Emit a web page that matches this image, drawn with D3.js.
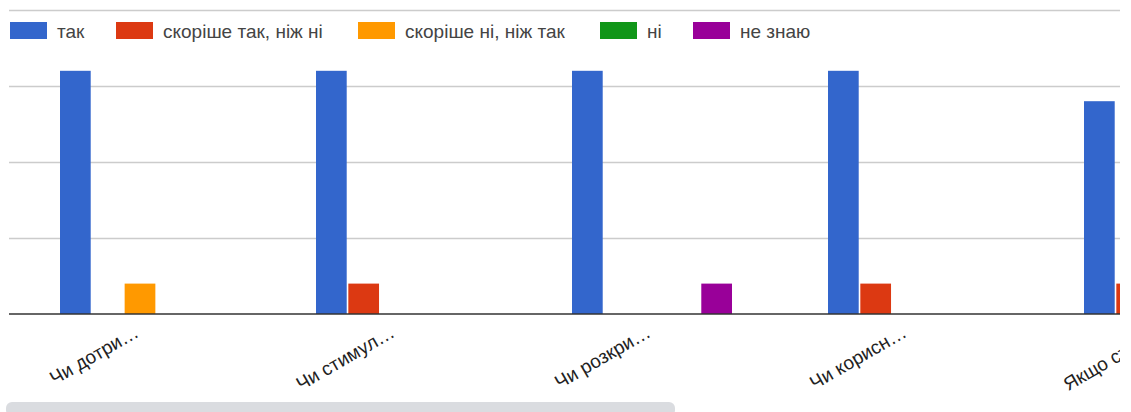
<!DOCTYPE html>
<html><head><meta charset="utf-8">
<script src="https://cdn.jsdelivr.net/npm/d3@7/dist/d3.min.js"></script>
<style>body{margin:0;background:#fff;overflow:hidden}svg{display:block}</style>
</head><body>
<svg id="c" width="1131" height="412"></svg>
<script>
const categories = ["Чи дотри…", "Чи стимул…", "Чи розкри…", "Чи корисн…", "Якщо студ…"];
const seriesNames = ["так", "скоріше так, ніж ні", "скоріше ні, ніж так", "ні", "не знаю"];
const seriesColors = ["#3366cc", "#dc3912", "#ff9900", "#109618", "#990099"];
const valTak = [8, 8, 8, 8, 7];
const valRatherYes = [0, 1, 0, 1, 1];
const valRatherNo = [1, 0, 0, 0, 0];
const valNo = [0, 0, 0, 0, 0];
const valDontKnow = [0, 0, 1, 0, 0];
const yTicks = [0, 2.5, 5, 7.5, 10];

const series = [valTak, valRatherYes, valRatherNo, valNo, valDontKnow];
const svg = d3.select("#c");
const font = "'Liberation Sans', Arial, sans-serif";

const plotLeft = 9, plotRight = 1120, plotTop = 10, base = 314;
const y = d3.scaleLinear().domain([0, 10]).range([base, plotTop]);
const x0 = d3.scaleBand().domain(categories).range([12, 12 + 256 * categories.length]).padding(0);
const x1 = d3.scaleBand().domain(d3.range(seriesNames.length)).range([48, 208]).paddingInner(0.05).paddingOuter(0);

svg.append("defs").append("clipPath").attr("id", "clip")
  .append("rect").attr("x", 0).attr("y", 0).attr("width", plotRight).attr("height", 412);

const g = svg.append("g").attr("clip-path", "url(#clip)");

// gridlines
g.selectAll("line.grid").data(yTicks.filter(t => t > 0)).join("line")
  .attr("x1", plotLeft).attr("x2", plotRight)
  .attr("y1", d => Math.round(y(d)) + 0.5).attr("y2", d => Math.round(y(d)) + 0.5)
  .attr("stroke", "#cccccc").attr("stroke-width", 1.5);

// bars
const groups = g.selectAll("g.grp").data(categories).join("g")
  .attr("transform", d => `translate(${x0(d)},0)`);
groups.each(function(cat, ci) {
  const gg = d3.select(this);
  series.forEach((vals, si) => {
    const v = vals[ci];
    if (v <= 0) return;
    gg.append("rect")
      .attr("x", x1(si)).attr("width", x1.bandwidth())
      .attr("y", y(v)).attr("height", y(0) - y(v))
      .attr("fill", seriesColors[si]);
  });
});

// baseline
g.append("line").attr("x1", plotLeft).attr("x2", plotRight)
  .attr("y1", base).attr("y2", base).attr("stroke", "#333").attr("stroke-width", 1.5);

// x labels
g.selectAll("text.xl").data(categories).join("text")
  .attr("transform", d => `translate(${x0(d) + x0.bandwidth() / 2},${base + 22}) rotate(-30)`)
  .attr("text-anchor", "end")
  .attr("font-family", font).attr("font-size", 19).attr("fill", "#222")
  .text(d => d);

// legend
const legendX = [10, 116, 358, 600, 693];
const leg = svg.append("g");
seriesNames.forEach((n, i) => {
  leg.append("rect").attr("x", legendX[i]).attr("y", 22).attr("width", 37).attr("height", 17)
    .attr("fill", seriesColors[i]);
  leg.append("text").attr("x", legendX[i] + 47).attr("y", 37.5)
    .attr("font-family", font).attr("font-size", 19).attr("fill", "#444").text(n);
});

// scrollbar
svg.append("rect").attr("x", 6).attr("y", 402).attr("width", 669).attr("height", 14)
  .attr("rx", 6).attr("fill", "#dadce0");
</script>
</body></html>
